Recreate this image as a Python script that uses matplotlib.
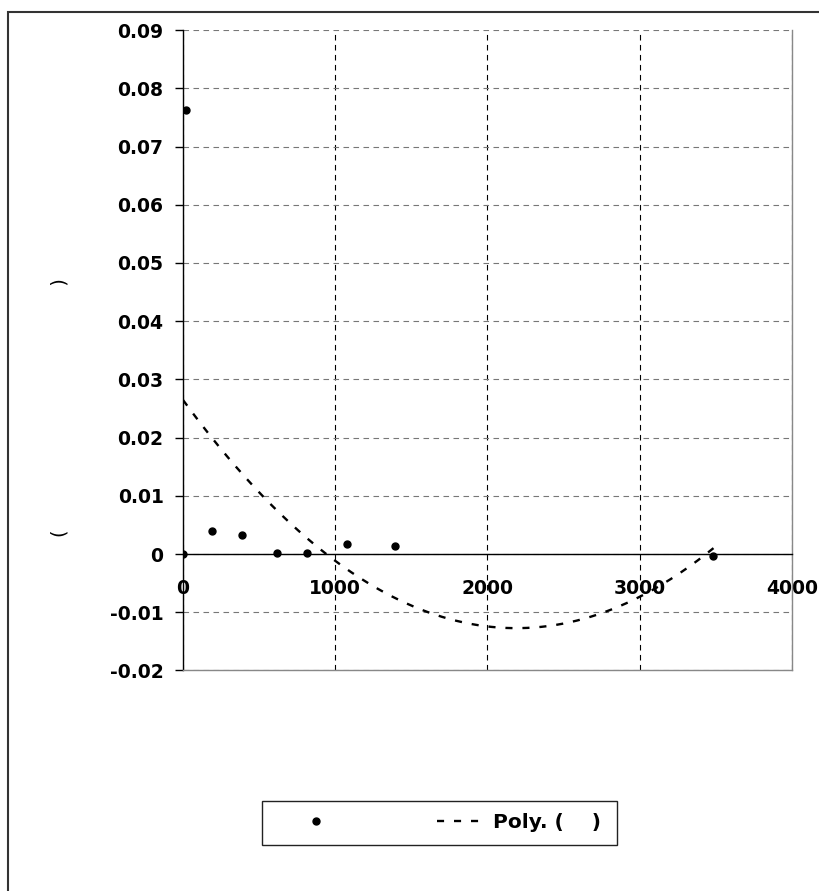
import numpy as np
import matplotlib
matplotlib.use("Agg")
import matplotlib.pyplot as plt
from matplotlib.lines import Line2D
from matplotlib.patches import Rectangle

# measured points
time_x = [0, 20, 193, 390, 620, 814, 1077, 1393, 3486]
value_y = [0.0, 0.0763, 0.0039, 0.0033, 0.0002, 0.0002, 0.0018, 0.0014, -0.0003]

x_ticks = [0, 1000, 2000, 3000, 4000]
y_ticks = [-0.02, -0.01, 0, 0.01, 0.02, 0.03, 0.04, 0.05, 0.06, 0.07, 0.08, 0.09]
y_tick_labels = ['-0.02', '-0.01', '0', '0.01', '0.02', '0.03', '0.04',
                 '0.05', '0.06', '0.07', '0.08', '0.09']

series_label = ' '
trend_label = 'Poly. (    )'
ylabel_text = '(' + ' ' * 39 + ')'

plt.rcParams['font.family'] = 'DejaVu Sans'

W, H = 819, 891
fig = plt.figure(figsize=(W / 100, H / 100), dpi=100)
fig.patch.set_facecolor('white')

# outer chart frame (left and top edges visible)
fig.patches.append(Rectangle((8 / W, -0.1), 1.2, 1.1 - 12 / H,
                             transform=fig.transFigure, fill=False,
                             edgecolor='#333333', linewidth=1.5))

ax = fig.add_axes([183 / W, 1 - 670.4 / H, (791.7 - 183) / W, (670.4 - 30.2) / H])
ax.set_xlim(0, 4000)
ax.set_ylim(-0.02, 0.09)

# second order trendline fitted to the data
coef = np.polyfit(time_x, value_y, 2)
xs = np.linspace(min(time_x), max(time_x), 300)
ax.plot(xs, np.polyval(coef, xs), color='black', linewidth=1.7,
        dashes=(3.0, 4.2), zorder=4)

ax.plot(time_x, value_y, 'o', color='black', markersize=5, zorder=5)

# grid
ax.set_xticks(x_ticks)
ax.set_yticks(y_ticks)
ax.set_yticklabels(y_tick_labels)
ax.yaxis.grid(True, color='#777777', linewidth=0.8, linestyle=(0, (5, 4)))
ax.xaxis.grid(True, color='black', linewidth=0.8, linestyle=(0, (5, 4)))
ax.set_axisbelow(True)

ax.spines['top'].set_visible(False)
ax.spines['right'].set_color('#888888')
ax.spines['right'].set_linewidth(1.0)
ax.spines['left'].set_color('black')
ax.spines['left'].set_linewidth(1.0)
ax.spines['bottom'].set_position(('data', 0))
ax.spines['bottom'].set_color('black')
ax.spines['bottom'].set_linewidth(1.0)
ax.plot([0, 1], [0, 0], transform=ax.transAxes, color='#888888',
        linewidth=1.0, clip_on=False, zorder=3)

ax.tick_params(axis='y', direction='out', length=6, width=1, pad=8,
               labelsize=13.5)
ax.tick_params(axis='x', length=0, pad=18, labelsize=13.5)
for lab in ax.get_xticklabels() + ax.get_yticklabels():
    lab.set_fontweight('bold')

fig.text(60 / W, 1 - 408 / H, ylabel_text, rotation=90, ha='center',
         va='center', fontsize=14)

# legend
fig.patches.append(Rectangle((262 / W, 1 - 845 / H), 355 / W, 44 / H,
                             transform=fig.transFigure, fill=False,
                             edgecolor='#222222', linewidth=1.0))
handles = [Line2D([], [], linestyle='none', marker='o', color='black', markersize=5),
           Line2D([], [], color='black', linewidth=1.7, dashes=(3.0, 4.2))]
leg = fig.legend(handles, [series_label, trend_label], ncol=2,
                 loc='center left', bbox_to_anchor=(274 / W, 1 - 823 / H),
                 frameon=False, handlelength=2.4, handletextpad=0.4,
                 columnspacing=4.05, prop={'weight': 'bold', 'size': 14.5})

fig.savefig('out.png', dpi=100, facecolor='white')
